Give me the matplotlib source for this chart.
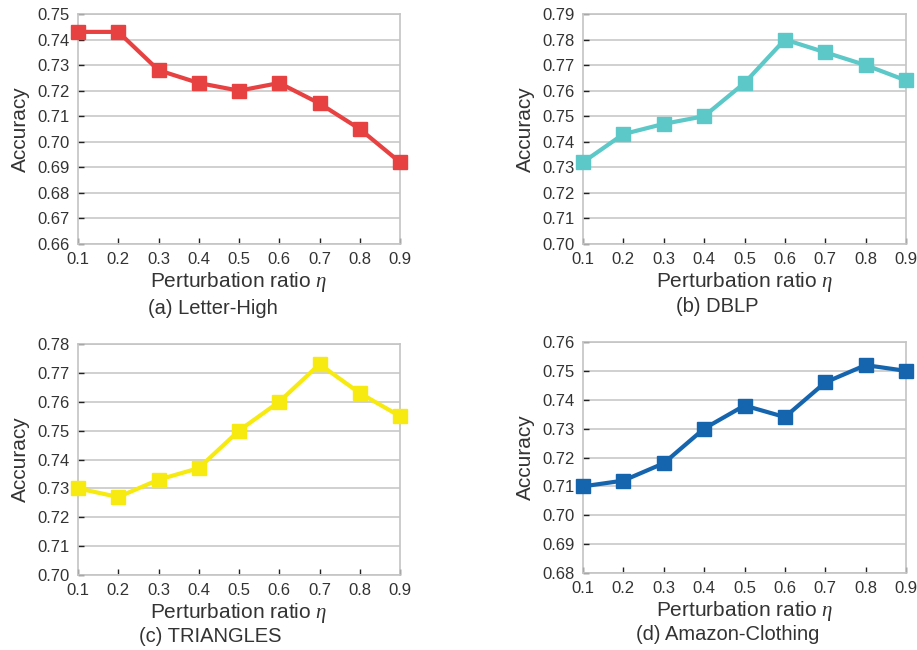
import matplotlib
matplotlib.use("Agg")
import matplotlib.pyplot as plt
from matplotlib.ticker import FormatStrFormatter

plt.rcParams['font.family'] = ['Liberation Sans', 'DejaVu Sans']
plt.rcParams['mathtext.fontset'] = 'custom'
plt.rcParams['mathtext.it'] = 'Liberation Serif:italic'

ratios = [0.1, 0.2, 0.3, 0.4, 0.5, 0.6, 0.7, 0.8, 0.9]

letter_high = [0.743, 0.743, 0.728, 0.723, 0.720, 0.723, 0.715, 0.705, 0.692]
dblp = [0.732, 0.743, 0.747, 0.750, 0.763, 0.780, 0.775, 0.770, 0.764]
triangles = [0.730, 0.727, 0.733, 0.737, 0.750, 0.760, 0.773, 0.763, 0.755]
amazon = [0.710, 0.712, 0.718, 0.730, 0.738, 0.734, 0.746, 0.752, 0.750]

titles = ["(a) Letter-High", "(b) DBLP", "(c) TRIANGLES", "(d) Amazon-Clothing"]
series = [letter_high, dblp, triangles, amazon]
ylims = [(0.66, 0.75), (0.70, 0.79), (0.70, 0.78), (0.68, 0.76)]
colors = ["#e84141", "#5cc8c8", "#f7ea10", "#1565ae"]

W, H = 917, 650
# axes boxes in pixels: left, top, right, bottom
boxes = [(78, 14, 400, 244), (583, 14, 906, 244),
         (78, 344, 400, 575), (583, 342, 906, 573)]
# subtitle centres in pixels
sub_pos = [(213, 308), (717, 307), (210, 637), (728, 635)]

txt = "#333333"
fig = plt.figure(figsize=(W / 100, H / 100), dpi=100)

for i in range(4):
    l, t, r, b = boxes[i]
    ax = fig.add_axes([l / W, 1 - b / H, (r - l) / W, (b - t) / H])
    ax.plot(ratios, series[i], color=colors[i], lw=3, marker='s', ms=9.5,
            clip_on=False, zorder=3)
    ax.set_xlim(0.1, 0.9)
    ax.set_ylim(*ylims[i])
    ax.set_xticks(ratios)
    lo, hi = ylims[i]
    n = int(round((hi - lo) / 0.01))
    ax.set_yticks([lo + k * 0.01 for k in range(n + 1)])
    ax.yaxis.set_major_formatter(FormatStrFormatter('%.2f'))
    ax.xaxis.set_major_formatter(FormatStrFormatter('%.1f'))
    ax.grid(axis='y', color='#c8c8c8', lw=1.2)
    ax.set_axisbelow(True)
    for s in ax.spines.values():
        s.set_color('#c4c4c4')
        s.set_linewidth(1.2)
    ax.tick_params(direction='in', length=4, width=1, color='#222222',
                   labelsize=12, labelcolor=txt)
    ax.tick_params(axis='x', pad=6)
    ax.tick_params(axis='y', pad=6)
    ax.set_xlabel(r"Perturbation ratio $\it{\eta}$", fontsize=15, color=txt,
                  labelpad=2)
    ax.set_ylabel("Accuracy", fontsize=15, color=txt, labelpad=5)
    fig.text(sub_pos[i][0] / W, 1 - sub_pos[i][1] / H, titles[i],
             fontsize=14.5, color=txt, ha='center', va='center')

fig.savefig("out.png", dpi=100)
